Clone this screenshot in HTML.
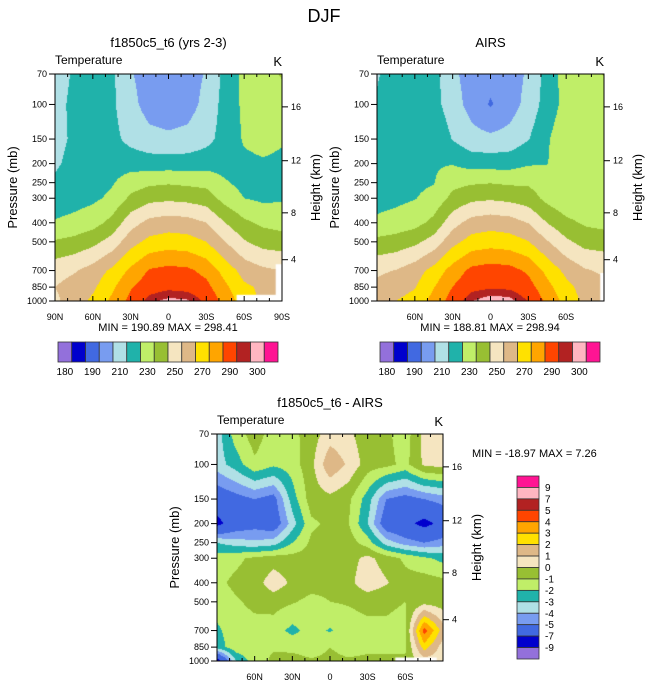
<!DOCTYPE html>
<html><head><meta charset="utf-8">
<style>
html,body{margin:0;padding:0;background:#fff;}
#root{position:relative;width:648px;height:685px;overflow:hidden;font-family:"Liberation Sans",sans-serif;}
canvas{position:absolute;}
svg{position:absolute;left:0;top:0;}
</style></head>
<body>
<div id="root">
<canvas id="c1"></canvas>
<canvas id="c2"></canvas>
<canvas id="c3"></canvas>
<svg id="ov" width="648" height="685">
<text x="324" y="22" font-size="18" text-anchor="middle">DJF</text>
</svg>
</div>
<script>
// ---- data ----
const lats=[90,75,60,45,30,15,0,-15,-30,-45,-60,-75,-90];
const levs=[70,100,150,200,250,300,400,500,700,850,1000];
const modelT=[
[206,211,215,212,201,195,194,195,201,213,223,226,231],
[207,212,216,212,203,196,194,196,203,214,222,225,225],
[208,211,214,213,207,203,202,203,207,214,221,223,221],
[209,212,215,216,216,215,215,215,216,216,218,219,218],
[211,214,216,219,225,228,229,228,227,221,217,218,219],
[214,216,218,222,232,237,238,237,235,226,220,218,219],
[221,223,226,233,246,253,255,254,250,240,232,228,226],
[231,233,237,244,256,263,265,264,260,250,241,236,235],
[246,249,254,262,272,281,283,282,277,266,256,252,250],
[250,254,258,268,279,286,288,287,283,272,262,258,253],
[248,255,262,272,283,293,297,296,288,276,265,258,256]];
const airsT=[
[209.5,212.5,215.5,213.5,202.3,195.5,193.5,194.8,201.6,213.8,224.5,225.7,230.5],
[210.5,214.5,217.2,213.8,204.5,196.3,189.0,195.2,203.5,214.7,223.3,224.8,224.6],
[214,216.5,219,218.5,209.5,203.5,202.3,203.8,209.5,219,226.5,228,225.5],
[216.5,218,218.5,219,219.5,216.2,215.8,216,219,219.8,224.5,226.5,224.5],
[214,216,218,219.5,227,228.8,229.6,228.5,228.5,224.5,221.5,223,223.5],
[215.5,217.5,219.6,223.2,232.8,237.6,238.7,237.3,234.8,227,221.6,220,221.3],
[222.5,224.2,226.6,232.8,246.3,253.8,255.8,254.4,249.7,239.8,232.8,228.6,226.8],
[232.5,234.2,237.6,244.3,256.7,264.2,265.8,264.6,260.5,250.8,241.9,236.3,235.6],
[248.2,250.4,255.3,263.5,274.3,282.5,284.6,283.5,278.3,267.1,257.2,251,248.5],
[252.5,255.4,259.3,269.5,280.2,287.4,288.9,288.3,284.2,273.1,263.2,255.5,252.5],
[256,260,264,273.5,284.6,294.7,298.8,297.6,289.5,277.5,266.3,257.5,255.5]];
const diffT=[
[-3.5,-1.5,-0.5,-1.5,-1.3,-0.5,0.5,0.2,-0.6,-0.8,-1.5,0.3,0.5],
[-3.5,-2.5,-1.2,-1.8,-1.5,-0.3,1.8,0.8,-0.5,-0.7,-1.3,0.2,0.4],
[-6,-5.5,-5,-5.5,-2.5,-0.5,-0.3,-0.8,-2.5,-5,-5.5,-5,-4.5],
[-7.5,-6,-5.5,-6,-3.5,-1.2,-0.8,-1.0,-3,-6,-6.5,-7.5,-6.5],
[-3,-3.5,-3.8,-3.5,-2,-0.8,-0.6,-0.5,-1.5,-3.5,-4.5,-5,-4.5],
[-1.5,-1.2,-0.8,-0.5,-0.6,-0.6,-0.7,-0.4,0.3,-0.5,-1.2,-1.8,-2.3],
[-1.2,-0.8,-0.5,0.6,-0.2,-0.6,-0.7,-0.3,0.7,0.1,-0.6,-0.5,-0.7],
[-1.5,-1.1,-0.8,-0.6,-0.9,-1.3,-1.0,-0.9,-0.7,-0.9,-1.0,-0.4,-0.6],
[-2.2,-1.4,-1.3,-1.5,-2.3,-1.6,-2.1,-1.5,-1.3,-1.1,-1.2,4.5,1.5],
[-2.5,-1.4,-1.2,-1.1,-1.2,-1.4,-1.0,-1.3,-1.2,-1.1,-1.2,2.5,0.5],
[-8,-3,-1.5,-0.8,-0.7,-0.9,-0.8,-0.9,-0.8,-0.9,-0.8,0.5,0.5]];
const tempLevels=[180,185,190,200,210,220,230,240,250,260,270,280,290,295,300];
const tempBarLabels=["180","","190","","210","","230","","250","","270","","290","","300",""];
const diffLevels=[-9,-7,-5,-4,-3,-2,-1,0,1,2,3,4,5,7,9];
const diffBarLabels=["9","7","5","4","3","2","1","0","-1","-2","-3","-4","-5","-7","-9"];
const palette=["#9370DB","#0000CD","#4169E1","#789CF0","#B0E0E6","#20B2AA","#C0EE68","#98BF33","#F5E5C0","#DEB887","#FFE100","#FFA500","#FF4500","#B22222","#FFB6C1","#FF1493"];
const presTicks=[70,100,150,200,250,300,400,500,700,850,1000];
const heightTicks=[4,8,12,16];
const latTicksA=[90,60,30,0,-30,-60,-90];
const latLabelsA=["90N","60N","30N","0","30S","60S","90S"];
const latTicksB=[60,30,0,-30,-60];
const latLabelsB=["60N","30N","0","30S","60S"];
// missing regions: [latFrom, latTo, pTop, pBottom]
const missing1=[[-54,-90,930,1000],[-85,-90,650,1000]];
const missing2=[[-87,-90,720,1000]];
const missing3=[[-52,-85,960,1000]];

const NS="http://www.w3.org/2000/svg";
const ov=document.getElementById('ov');
function el(tag,attrs,txt){const e=document.createElementNS(NS,tag);for(const k in attrs)e.setAttribute(k,attrs[k]);if(txt!==undefined)e.textContent=txt;ov.appendChild(e);return e;}
function hToP(z){z*=1000;return z<=11000?1013.25*Math.pow(1-2.25577e-5*z,5.25588):226.32*Math.exp(-(z-11000)/6341.6);}
function colorIdx(v,lv){let i=0;while(i<lv.length&&v>=lv[i])i++;return i;}

function panel(cfg){
  const {x0,y0,W,H,data,lv,canvasId,miss}=cfg;
  const lp0=Math.log(70),lp1=Math.log(1000);
  const xOf=lat=>x0+(90-lat)/180*W;
  const yOf=p=>y0+(Math.log(p)-lp0)/(lp1-lp0)*H;
  const c=document.getElementById(canvasId);
  c.width=W;c.height=H;c.style.left=x0+'px';c.style.top=y0+'px';
  const ctx=c.getContext('2d');
  const img=ctx.createImageData(W,H);
  const rgb=palette.map(h=>[parseInt(h.slice(1,3),16),parseInt(h.slice(3,5),16),parseInt(h.slice(5,7),16)]);
  const llev=levs.map(Math.log);
  for(let py=0;py<H;py++){
    const lp=lp0+(py+0.5)/H*(lp1-lp0);
    let j=0;while(j<llev.length-2&&lp>llev[j+1])j++;
    const ty=Math.min(1,Math.max(0,(lp-llev[j])/(llev[j+1]-llev[j])));
    for(let px=0;px<W;px++){
      const lat=90-(px+0.5)/W*180;
      const fi=(lats[0]-lat)/(lats[0]-lats[1]);
      let i=Math.min(lats.length-2,Math.max(0,Math.floor(fi)));
      const tx=Math.min(1,Math.max(0,fi-i));
      const v=(data[j][i]*(1-tx)+data[j][i+1]*tx)*(1-ty)+(data[j+1][i]*(1-tx)+data[j+1][i+1]*tx)*ty;
      const col=rgb[colorIdx(v,lv)];
      const o=(py*W+px)*4;img.data[o]=col[0];img.data[o+1]=col[1];img.data[o+2]=col[2];img.data[o+3]=255;
    }
  }
  ctx.putImageData(img,0,0);
  ctx.fillStyle='#fff';
  miss.forEach(m=>{const a=xOf(m[0])-x0,b=xOf(m[1])-x0,t=yOf(m[2])-y0,bt=yOf(m[3])-y0;ctx.fillRect(a,t,b-a,bt-t);});
  const fr=el('rect',{x:x0,y:y0,width:W,height:H,fill:'none',stroke:'#000','stroke-width':1});
  
  
  presTicks.forEach(p=>{
    const y=yOf(p);
    const t=el('line',{x1:x0-6,x2:x0,y1:y,y2:y,stroke:'#000'});
    
    
    const l=el('text',{x:x0-8,y:y+3,'font-size':9,'text-anchor':'end'},String(p));
    
    
  });
  heightTicks.forEach(h=>{
    const y=yOf(hToP(h));
    const t=el('line',{x1:x0+W,x2:x0+W+6,y1:y,y2:y,stroke:'#000'});
    
    
    const l=el('text',{x:x0+W+9,y:y+3,'font-size':9},String(h));
    
    
  });
  for(let lat=90;lat>=-90;lat-=10){
    const x=xOf(lat);const major=lat%30===0;const len=major?5:3;
    const t1=el('line',{x1:x,x2:x,y1:y0,y2:y0+len,stroke:'#000'});
    
    
    const t2=el('line',{x1:x,x2:x,y1:y0+H,y2:y0+H-len,stroke:'#000'});
    
    
  }
  cfg.latTicks.forEach((lat,k)=>{
    const l=el('text',{x:xOf(lat),y:y0+H+19,'font-size':9,'text-anchor':'middle'},cfg.latLabels[k]);
    
    
  });
  const cx=x0+W/2, cy=y0+H/2;
  const ti=el('text',{x:cx,y:y0-27,'font-size':13,'text-anchor':'middle'},cfg.title);
  
  
  const te=el('text',{x:x0,y:y0-10,'font-size':12},'Temperature');
  
  
  const k=el('text',{x:x0+W,y:y0-8,'font-size':13,'text-anchor':'end'},'K');
  
  
  const py=el('text',{x:0,y:0,'font-size':13,'text-anchor':'middle',transform:`translate(${x0-38},${cy}) rotate(-90)`},'Pressure (mb)');
  
  
  const hy=el('text',{x:0,y:0,'font-size':13,'text-anchor':'middle',transform:`translate(${x0+W+38},${cy}) rotate(-90)`},'Height (km)');
  
  
}

panel({name:'model',x0:55,y0:74,W:227,H:227,data:modelT,lv:tempLevels,canvasId:'c1',miss:missing1,title:'f1850c5_t6 (yrs 2-3)',latTicks:latTicksA,latLabels:latLabelsA});
panel({name:'airs',x0:377,y0:74,W:227,H:227,data:airsT,lv:tempLevels,canvasId:'c2',miss:missing2,title:'AIRS',latTicks:latTicksB,latLabels:latLabelsB});
panel({name:'difference',x0:217,y0:434,W:226,H:227,data:diffT,lv:diffLevels,canvasId:'c3',miss:missing3,title:'f1850c5_t6 - AIRS',latTicks:latTicksB,latLabels:latLabelsB});

let m=el('text',{x:168,y:331,'font-size':11,'text-anchor':'middle','xml:space':'preserve'},'MIN = 190.89  MAX = 298.41');


m=el('text',{x:490,y:331,'font-size':11,'text-anchor':'middle','xml:space':'preserve'},'MIN = 188.81  MAX = 298.94');


m=el('text',{x:472,y:457,'font-size':11,'xml:space':'preserve'},'MIN = -18.97  MAX =   7.26');



[[58,'model'],[380,'airs']].forEach(([bx,nm])=>{
  const bw=220/16;
  palette.forEach((c,i)=>{
    const r=el('rect',{x:bx+i*bw,y:342,width:bw,height:20,fill:c,stroke:'#333','stroke-width':0.8});
    
    
    if(tempBarLabels[i]){
      const t=el('text',{x:bx+i*bw+bw/2,y:375,'font-size':10,'text-anchor':'middle'},tempBarLabels[i]);
      
      
    }
  });
});
{
  const bh=183/16;
  palette.slice().reverse().forEach((c,i)=>{
    const r=el('rect',{x:517,y:476+i*bh,width:22,height:bh,fill:c,stroke:'#333','stroke-width':0.8});
    
    
  });
  diffBarLabels.forEach((s,i)=>{
    const t=el('text',{x:545,y:476+(i+1)*bh+3.5,'font-size':10},s);
    
    
  });
}
</script>
</body></html>
